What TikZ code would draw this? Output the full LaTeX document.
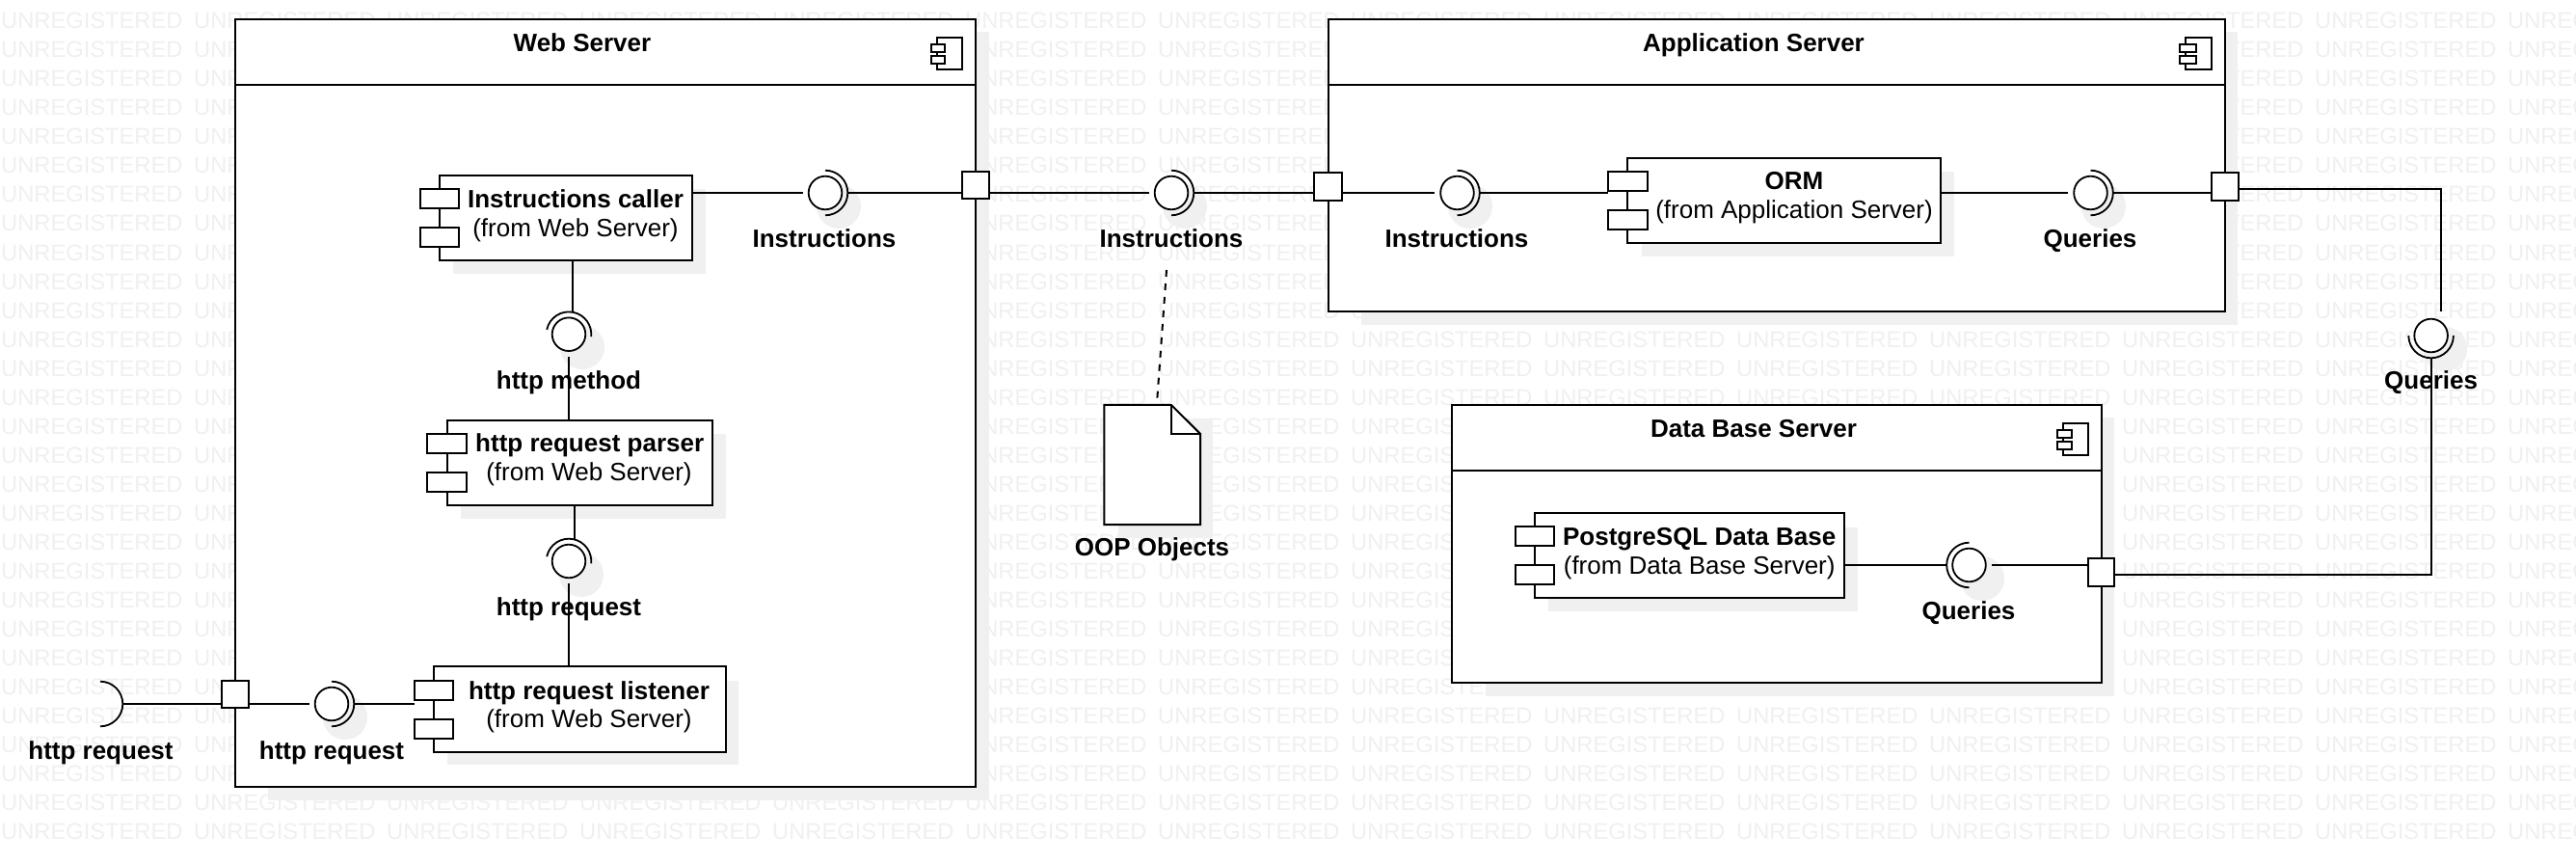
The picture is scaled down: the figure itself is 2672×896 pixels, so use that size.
\documentclass[tikz,border=0pt]{standalone}
\usepackage{fontspec}
\setmainfont{Liberation Sans}
\definecolor{shad}{HTML}{F0F0F0}
\definecolor{wm}{HTML}{F0F0F0}
\tikzset{
  boxstyle/.style={draw=black,fill=white,line width=2pt,inner sep=0pt,outer sep=0pt,rectangle},
  ballstyle/.style={circle,draw=black,fill=white,line width=1.8pt,minimum size=34.6pt,inner sep=0pt,outer sep=6pt},
  conn/.style={draw=black,line width=2pt},
  arcline/.style={draw=black,line width=1.8pt},
  lab/.style={inner sep=0pt,anchor=base,text=black,font=\bfseries\fontsize{26}{30}\selectfont,yshift=-0.3pt},
  sublab/.style={inner sep=0pt,anchor=base,text=black,font=\fontsize{26}{30}\selectfont,yshift=-0.3pt},
  wmark/.style={inner sep=0pt,anchor=base west,text=wm,font=\fontsize{23.7}{28}\selectfont},
  shadfill/.style={fill=shad,draw=none}
}
% box from left, top, right, bottom (pixels, y downwards)
\newcommand{\pbox}[5]{\node[boxstyle,minimum width={(#4)-(#2)},minimum height={(#5)-(#3)}] (#1) at ({((#2)+(#4))/2},{-((#3)+(#5))/2}) {};}
% component: name,l,t,r,b,small left,small right,small top 1,small top 2
\newcommand{\comp}[9]{%
  \pbox{#1}{#2}{#3}{#4}{#5}
  \pbox{#1a}{#6}{#8}{#7}{#8+20.3}
  \pbox{#1b}{#6}{#9}{#7}{#9+20.3}
}
\newcommand{\shbox}[4]{\fill[shadfill] (#1,-#2) rectangle (#3,-#4);}
\newcommand{\shball}[2]{\fill[shadfill] (#1,-#2) circle (23);}
\newcommand{\ball}[3]{\node[ballstyle] (#1) at (#2,-#3) {};}
\newcommand{\ballarc}[3]{\draw[arcline] (#1.center) ++(#2:23.3) arc[start angle=#2,end angle=#3,radius=23.3];}
\begin{document}
\begin{tikzpicture}[x=1pt,y=1pt]
\useasboundingbox (0,0) rectangle (2672,-896);
\fill[white] (0,0) rectangle (2672,-896);
% outer shadows
\shbox{278}{33}{1026}{830}
\shbox{1412}{33}{2321}{337}
\shbox{1541}{433}{2193}{722}
\shbox{1160}{434}{1258}{558}
\shball{1229}{214}
\shball{2536}{362}
% watermark
\foreach \r in {1,...,29}{
  \foreach \c in {0,...,13}{
    \node[wmark] (w\r x\c) at ({1+200*\c},{-30*\r}) {UNREGISTERED};
  }
}
% packages
\pbox{web}{243.5}{20}{1012}{816}
\coordinate (webh) at (243.5,-88);
\draw[conn] (webh) -- (webh -| web.east);
\pbox{app}{1378}{20}{2308}{323}
\coordinate (apph) at (1378,-88);
\draw[conn] (apph) -- (apph -| app.east);
\pbox{dbs}{1506}{420}{2180}{708}
\coordinate (dbsh) at (1506,-488);
\draw[conn] (dbsh) -- (dbsh -| dbs.east);
% package icons
\begin{scope}[every node/.append style={line width=1.6pt}]
\pbox{webi}{971.6}{39}{998}{72}
\pbox{webj}{966}{46}{980}{54}
\pbox{webk}{966}{58}{980}{66}
\pbox{appi}{2267}{39}{2294}{72}
\pbox{appj}{2261}{46}{2278}{54}
\pbox{appk}{2261}{58}{2278}{66}
\pbox{dbsi}{2140}{439}{2166}{472}
\pbox{dbsj}{2134}{446}{2148.6}{454}
\pbox{dbsk}{2134}{458}{2148.6}{466}
\end{scope}
% inner shadows
\shbox{470}{196}{732}{284}
\shbox{478}{450}{753}{538}
\shbox{464}{706}{766}{793}
\shbox{1702.5}{178}{2027}{266}
\shbox{1606}{547}{1927}{634}
\shball{870}{214}
\shball{604}{360}
\shball{603}{596}
\shball{358}{744}
\shball{1525}{214}
\shball{2182}{214}
\shball{2056}{600}
% balls
\ball{bi}{856}{200}
\ball{bm}{590}{346.7}
\ball{br}{590}{582}
\ball{bl}{344}{730}
\ball{bx}{1215}{200}
\ball{ba}{1511.5}{200}
\ball{bq}{2168.5}{200}
\ball{bz}{2521.6}{348}
\ball{bd}{2042.5}{586}
% components
\comp{ic}{456}{182}{718}{270}{436}{476}{196}{236}
\comp{pa}{463.7}{435.7}{739}{524}{443.3}{484}{450}{489.5}
\comp{li}{449.7}{691}{752.7}{780}{430}{470}{705.7}{745.7}
\comp{orm}{1687.6}{163.7}{2013}{252}{1667.5}{1708.6}{177.7}{217.7}
\comp{pg}{1592}{531.7}{1913}{620}{1572}{1612.3}{545.7}{586}
% ports
\pbox{pw}{997.6}{177.7}{1026}{206.3}
\pbox{pl}{230}{705.7}{258}{734}
\pbox{pa1}{1363}{179.3}{1392}{208}
\pbox{pa2}{2294}{179.3}{2322}{208}
\pbox{pd}{2165.7}{579.3}{2193}{608.3}
% document
\node[inner sep=0pt,minimum width=99.3pt,minimum height=124pt] (doc) at (1195.3,-482) {};
\draw[conn,fill=white] (doc.north west) -- (1215,-420) -- (doc.east |- 0,-450) -- (doc.south east) -- (doc.south west) -- cycle;
\draw[conn] (1215,-420) -- (1215,-450) -- (doc.east |- 0,-450);
% ball arcs
\ballarc{bi}{90}{-90}
\ballarc{bm}{168}{-6}
\ballarc{br}{168}{-6}
\ballarc{bl}{90}{-90}
\ballarc{bx}{90}{-90}
\ballarc{ba}{90}{-90}
\ballarc{bq}{90}{-90}
\ballarc{bz}{180}{360}
\ballarc{bd}{90}{270}
% connectors
\draw[conn] (ic.east |- bi.west) -- (bi.west);
\draw[conn] (bi.east) -- (pw.west |- bi.east);
\draw[conn] (pw.east |- bx.west) -- (bx.west);
\draw[conn] (bx.east) -- (pa1.west |- bx.east);
\draw[conn] (pa1.east |- ba.west) -- (ba.west);
\draw[conn] (ba.east) -- (orma.west |- ba.east);
\draw[conn] (orm.east |- bq.west) -- (bq.west);
\draw[conn] (bq.east) -- (pa2.west |- bq.east);
\coordinate (tm) at (594,-300);
\coordinate (tr) at (596,-540);
\draw[conn] (tm |- ic.south) -- (tm |- bm.north);
\draw[conn] (bm.south) -- (bm.south |- pa.north);
\draw[conn] (tr |- pa.south) -- (tr |- br.north);
\draw[conn] (br.south) -- (br.south |- li.north);
\coordinate (lf) at (127.3,-730);
\draw[arcline] (104,-706.7) arc[start angle=90,end angle=-90,radius=23.3];
\draw[conn] (lf) -- (pl.west |- lf);
\draw[conn] (pl.east |- bl.west) -- (bl.west);
\draw[conn] (bl.east) -- (lia.west |- bl.east);
\draw[conn] (pg.east |- bd.west) -- (bd.west);
\draw[conn] (bd.east) -- (pd.west |- bd.east);
\coordinate (qa) at (2532,-195.7);
\coordinate (qb) at (2532,-323);
\coordinate (qc) at (2521.6,-595.7);
\draw[conn] (pa2.east |- qa) -- (qa) -- (qb);
\draw[conn] (bz.south) -- (qc) -- (pd.east |- qc);
\coordinate (ns) at (1210,-280);
\coordinate (ne) at (1200,-418);
\draw[conn,dash pattern=on 7pt off 7pt] (ns) -- (ne);
% labels
\node[lab] (t1) at (604,-53) {Web Server};
\node[lab] (t2) at (1819,-53) {Application Server};
\node[lab] (t3) at (1819,-453.3) {Data Base Server};
\node[lab] (c1) at (597,-215) {Instructions caller};
\node[sublab] (c1s) at (597,-245) {(from Web Server)};
\node[lab] (c2) at (611.7,-468) {http request parser};
\node[sublab] (c2s) at (611,-498) {(from Web Server)};
\node[lab] (c3) at (611,-725) {http request listener};
\node[sublab] (c3s) at (611,-754) {(from Web Server)};
\node[lab] (c4) at (1861,-196.7) {ORM};
\node[sublab] (c4s) at (1861,-226.7) {(from Application Server)};
\node[lab] (c5) at (1762.7,-565) {PostgreSQL Data Base};
\node[sublab] (c5s) at (1762.7,-595) {(from Data Base Server)};
\node[lab] (l1) at (855,-256.7) {Instructions};
\node[lab] (l2) at (590,-402.7) {http method};
\node[lab] (l3) at (590,-638) {http request};
\node[lab] (l4) at (104.5,-786.7) {http request};
\node[lab] (l5) at (344,-786.7) {http request};
\node[lab] (l6) at (1215,-256.7) {Instructions};
\node[lab] (l7) at (1511,-256.7) {Instructions};
\node[lab] (l8) at (2168,-256.7) {Queries};
\node[lab] (l9) at (2521.6,-402.7) {Queries};
\node[lab] (l10) at (2042,-641.7) {Queries};
\node[lab] (l11) at (1195,-575.7) {OOP Objects};
\end{tikzpicture}
\end{document}
